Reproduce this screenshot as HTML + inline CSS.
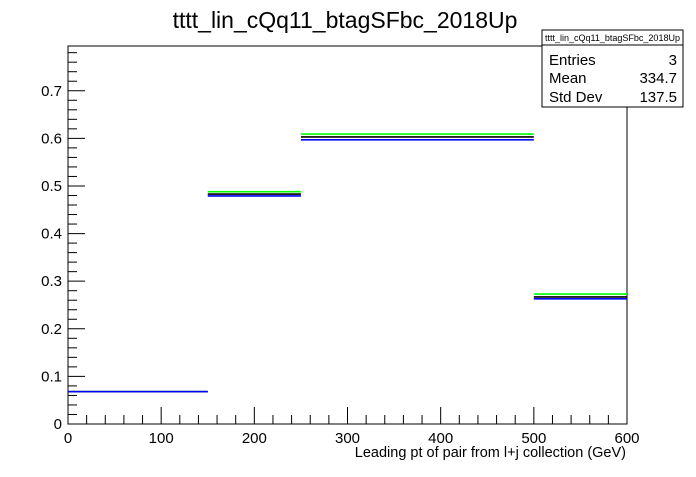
<!DOCTYPE html>
<html><head><meta charset="utf-8"><style>
body{margin:0;background:#fff;}
svg text{font-family:"Liberation Sans",sans-serif;}
</style></head><body>
<svg id="c" width="696" height="472" xmlns="http://www.w3.org/2000/svg">
<rect width="696" height="472" fill="#fff"/>
<text x="345" y="22" font-size="23" text-anchor="middle" dominant-baseline="middle">tttt_lin_cQq11_btagSFbc_2018Up</text>
<g id="axes"></g>
<g id="marks"></g>
<g>
<rect x="542" y="30" width="141" height="77" fill="#fff" stroke="#000" stroke-width="1"/>
<line x1="542" y1="45" x2="683" y2="45" stroke="#000"/>
<text x="612.5" y="41" font-size="9" text-anchor="middle">tttt_lin_cQq11_btagSFbc_2018Up</text>
<text x="549" y="65" font-size="15">Entries</text><text x="677" y="65" font-size="15" text-anchor="end">3</text>
<text x="549" y="83" font-size="15">Mean</text><text x="677" y="83" font-size="15" text-anchor="end">334.7</text>
<text x="549" y="102" font-size="15">Std Dev</text><text x="677" y="102" font-size="15" text-anchor="end">137.5</text>
</g>
<text x="626" y="457" font-size="14.5" text-anchor="end">Leading pt of pair from l+j collection (GeV)</text>
</svg>
<script>
const binEdges=[0,150,250,500,600];
const greenVals=[0.068,0.488,0.609,0.273];
const blackVals=[0.068,0.483,0.603,0.267];
const blueVals=[0.068,0.479,0.597,0.263];
const xTicks=[0,100,200,300,400,500,600];
const yTicks=[0,0.1,0.2,0.3,0.4,0.5,0.6,0.7];
const yTickLabels=["0","0.1","0.2","0.3","0.4","0.5","0.6","0.7"];
const L=68,R=627,T=46,B=424,XMAX=600,YMAX=0.794;
const sx=v=>L+(v/XMAX)*(R-L);
const sy=v=>B-(v/YMAX)*(B-T);
const NS="http://www.w3.org/2000/svg";
function mk(tag,attrs,parent){const e=document.createElementNS(NS,tag);for(const k in attrs)e.setAttribute(k,attrs[k]);parent.appendChild(e);return e;}
const ax=document.getElementById('axes');
const fr=mk('rect',{x:L,y:T,width:R-L,height:B-T,fill:'none',stroke:'#000','stroke-width':1},ax);


for(let v=0;v<=XMAX+0.01;v+=20){const maj=Math.abs(v%100)<0.01;mk('line',{x1:sx(v),x2:sx(v),y1:B,y2:B-(maj?17:9),stroke:'#000'},ax);}
for(let v=0;v<=YMAX;v+=0.02){const maj=Math.abs((v*10)-Math.round(v*10))<0.01;mk('line',{x1:L,x2:L+(maj?17:9),y1:sy(v),y2:sy(v),stroke:'#000'},ax);}
xTicks.forEach(v=>{const t=mk('text',{x:sx(v),y:B+19,'font-size':15,'text-anchor':'middle'},ax);t.textContent=v;

});
yTicks.forEach((v,i)=>{const t=mk('text',{x:L-6,y:sy(v)+5,'font-size':15,'text-anchor':'end'},ax);t.textContent=yTickLabels[i];

});
const mg=document.getElementById('marks');
[[greenVals,'#00ff00','green'],[blackVals,'#000','black'],[blueVals,'#0000ff','blue']].forEach(([vals,col,nm])=>{
vals.forEach((v,i)=>{const l=mk('line',{x1:sx(binEdges[i]),x2:sx(binEdges[i+1]),y1:sy(v),y2:sy(v),stroke:col,'stroke-width':1.6},mg);

});});
</script>
</body></html>
